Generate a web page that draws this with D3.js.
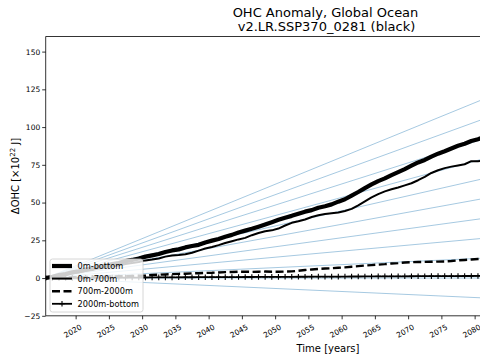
<!DOCTYPE html>
<html><head><meta charset="utf-8">
<script src="https://cdn.jsdelivr.net/npm/d3@7"></script>
<style>body{margin:0;background:#fff}svg{display:block;font-family:"DejaVu Sans",sans-serif}</style>
</head><body><svg id="c" width="480" height="360"></svg>
<script>
const titleLines = ["OHC Anomaly, Global Ocean", "v2.LR.SSP370_0281 (black)"];
const xLabel = "Time [years]";
const startYear = 2015.5;
const xTicks = [2020,2025,2030,2035,2040,2045,2050,2055,2060,2065,2070,2075,2080];
const yTicks = [-25,0,25,50,75,100,125,150];
// reference heating-rate lines (x10^22 J per year)
const refRates = [-0.2,0,0.2,0.4,0.6,0.8,1.0,1.2,1.4,1.6,1.8];
const seriesNames = ["0m-bottom","0m-700m","700m-2000m","2000m-bottom"];
const ohc0mBottom = [0,0.9,2.0,2.6,3.8,4.5,5.6,6.4,7.6,8.2,9.2,10.0,11.2,12.0,13.0,14.2,15.0,15.9,17.3,18.3,19.0,20.3,21.2,22.0,23.6,24.8,25.9,27.4,28.6,30.2,31.4,32.6,34.0,35.5,37.0,38.6,40.0,41.2,42.6,44.0,45.0,46.6,47.6,48.8,50.6,52.2,54.6,57.0,59.6,62.0,64.2,66.0,68.2,70.2,72.2,74.4,76.6,78.2,80.4,82.4,84.0,85.8,87.6,89.0,90.8,92.0,93.4,94.6];
const ohc0m700m = [0,0.8,1.7,2.2,3.2,3.8,4.7,5.4,6.4,6.9,7.7,8.3,9.3,9.9,10.7,11.7,12.3,13.0,14.2,14.9,15.3,15.8,16.8,18.2,19.6,20.6,21.8,23.2,24.4,25.6,26.6,28.4,29.8,31.0,31.6,32.8,34.8,36.6,37.6,38.8,40.4,41.6,42.4,42.9,43.4,44.4,45.8,48.2,50.8,53.4,55.6,57.4,58.8,60.0,61.4,62.8,64.8,67.0,69.6,71.4,72.8,73.8,74.6,75.4,77.4,77.4,77.8,79.0];
const ohc700m2000m = [0,0.1,0.3,0.4,0.5,0.6,0.7,0.8,0.9,1.0,1.1,1.2,1.3,1.4,1.5,1.7,2.0,2.2,2.4,2.6,2.8,2.9,3.1,3.2,3.4,3.5,3.7,3.9,4.0,4.2,4.2,4.1,4.2,4.3,4.2,4.2,4.3,4.4,4.8,5.3,5.7,6.0,6.3,6.5,6.8,7.1,7.5,7.9,8.3,8.6,8.9,9.2,9.6,9.9,10.3,10.5,10.6,10.7,10.8,10.9,11.0,11.3,11.7,12.0,12.3,12.6,12.8,13.0];
const ohc2000mBottom = [0,0.03,0.06,0.08,0.1,0.13,0.16,0.18,0.2,0.23,0.26,0.27,0.3,0.33,0.35,0.38,0.4,0.42,0.45,0.47,0.5,0.52,0.53,0.56,0.58,0.6,0.62,0.64,0.66,0.68,0.7,0.71,0.74,0.76,0.78,0.8,0.82,0.83,0.86,0.88,0.9,0.92,0.94,0.95,0.98,1.0,1.02,1.04,1.06,1.07,1.1,1.12,1.14,1.16,1.17,1.2,1.22,1.24,1.26,1.27,1.3,1.32,1.34,1.36,1.37,1.4,1.42,1.44];

const svg = d3.select("#c");
const L = 45.7, R = 604.3, T = 36.5, B = 315.8;
const x = d3.scaleLinear().domain([2015.5, 2099.5]).range([L, R]);
const y = d3.scaleLinear().domain([-25, 160]).range([B, T]);
const blue = "#8fbbd9";

svg.append("defs").append("clipPath").attr("id","clip")
  .append("rect").attr("x",L).attr("y",T).attr("width",R-L).attr("height",B-T);
const plot = svg.append("g").attr("clip-path","url(#clip)");

// reference lines
refRates.forEach(r => {
  plot.append("line")
    .attr("x1", x(startYear)).attr("y1", y(0))
    .attr("x2", x(2099.5)).attr("y2", y(r*(2099.5-startYear)))
    .attr("stroke", blue).attr("stroke-width", 0.8);
});

const pts = arr => arr.map((v,i)=>[startYear+i, v]);
const line = d3.line().x(d=>x(d[0])).y(d=>y(d[1]));
const styles = [
  {data: ohc0mBottom, w: 4.2, dash: null},
  {data: ohc0m700m, w: 2.0, dash: null},
  {data: ohc700m2000m, w: 2.4, dash: "8,3.5"},
  {data: ohc2000mBottom, w: 1.8, dash: null, marker: true}
];
styles.forEach(s => {
  plot.append("path").datum(pts(s.data)).attr("d", line)
    .attr("fill","none").attr("stroke","#000").attr("stroke-width", s.w)
    .attr("stroke-dasharray", s.dash).attr("stroke-linejoin","round");
  if (s.marker) {
    plot.append("g").selectAll("path").data(pts(s.data)).join("path")
      .attr("transform", d=>`translate(${x(d[0])},${y(d[1])})`)
      .attr("d","M-2.8,0H2.8M0,-2.8V2.8").attr("stroke","#000").attr("stroke-width",1.1);
  }
});

// axes
const xa = svg.append("g").attr("transform",`translate(0,${B})`)
  .call(d3.axisBottom(x).tickValues(xTicks).tickSize(3.5).tickSizeOuter(0).tickFormat(d3.format("d")));
xa.select(".domain").remove();
xa.selectAll("text").attr("font-size",7.5).attr("font-family","DejaVu Sans")
  .attr("text-anchor","middle").attr("dy",0).attr("y",0)
  .attr("transform","translate(-2,17.5) rotate(-30)");
xa.selectAll("line").attr("stroke-width",0.8);

const ya = svg.append("g").attr("transform",`translate(${L},0)`)
  .call(d3.axisLeft(y).tickValues(yTicks).tickSize(3.5).tickSizeOuter(0).tickFormat(d=>d<0?"\u2212"+Math.abs(d):d));
ya.select(".domain").remove();
ya.selectAll("text").attr("font-size",7.5).attr("font-family","DejaVu Sans").attr("x",-5.5);
ya.selectAll("line").attr("stroke-width",0.8);

// spines
svg.append("path").attr("d",`M${R},${T}H${L}V${B}H${R}`).attr("fill","none").attr("stroke","#000").attr("stroke-width",0.8);

// labels
const tt = svg.append("text").attr("text-anchor","middle").attr("font-size",13).attr("fill","#000");
tt.append("tspan").attr("x",325.5).attr("y",16.5).text(titleLines[0]);
tt.append("tspan").attr("x",326.5).attr("y",31).text(titleLines[1]);
svg.append("text").attr("x",328).attr("y",352).attr("text-anchor","middle").attr("font-size",10).text(xLabel);
const yl = svg.append("text").attr("transform","translate(18.5,176) rotate(-90)").attr("text-anchor","middle").attr("font-size",10);
yl.append("tspan").text("\u0394OHC [\u00d710");
yl.append("tspan").attr("font-size",7).attr("dy",-4).text("22");
yl.append("tspan").attr("dy",4).text(" J]");

// legend
const lg = svg.append("g");
lg.append("rect").attr("x",50).attr("y",259).attr("width",93).attr("height",53).attr("rx",2.5)
  .attr("fill","#fff").attr("fill-opacity",0.8).attr("stroke","#ccc").attr("stroke-width",0.8);
seriesNames.forEach((n,i)=>{
  const yy = 266 + i*12.6;
  const s = styles[i];
  lg.append("line").attr("x1",52).attr("x2",72).attr("y1",yy).attr("y2",yy)
    .attr("stroke","#000").attr("stroke-width",s.w).attr("stroke-dasharray",s.dash);
  if (s.marker) lg.append("path").attr("d",`M59.2,${yy}h5.6M62,${yy-2.8}v5.6`).attr("stroke","#000").attr("stroke-width",1.1);
  lg.append("text").attr("x",77.5).attr("y",yy+3).attr("font-size",8.2).text(n);
});
</script></body></html>
